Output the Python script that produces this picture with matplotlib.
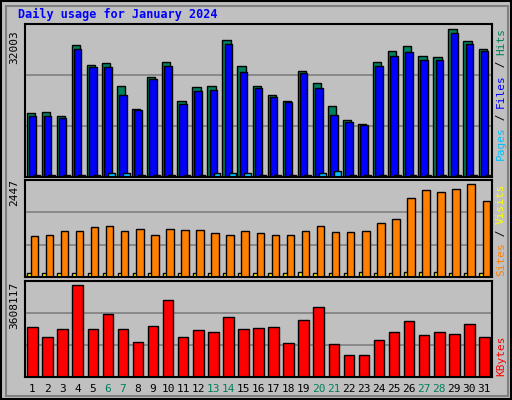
import numpy as np
import matplotlib.pyplot as plt
from matplotlib.patches import Rectangle

days = list(range(1, 32))
weekend = [6, 7, 13, 14, 20, 21, 27, 28]

hits = [13700, 13900, 13200, 28400, 24100, 24500, 19500, 14600, 21500, 24700, 16400, 19300,
        19500, 29500, 23900, 19700, 17600, 16400, 22900, 20200, 15300, 12300, 11400, 24700,
        27100, 28200, 26000, 25800, 31800, 29400, 27600]
files = [13200, 13200, 12800, 27500, 23700, 23700, 17600, 14400, 21100, 23900, 15700, 18600,
         18800, 28700, 22600, 19100, 17200, 16200, 22300, 19100, 13300, 11900, 11100, 23900,
         26000, 26900, 25200, 25200, 31100, 28600, 27200]
pages = [450, 400, 400, 400, 400, 800, 800, 400, 400, 400, 400, 400, 800, 800, 800, 400,
         400, 400, 400, 800, 1200, 400, 400, 400, 400, 400, 400, 400, 400, 400, 400]
sites = [1080, 1110, 1210, 1210, 1320, 1340, 1210, 1260, 1110, 1260, 1240, 1240, 1160, 1110,
         1210, 1160, 1110, 1110, 1210, 1340, 1180, 1180, 1210, 1420, 1530, 2080, 2290, 2240,
         2320, 2447, 2000]
visits = [100, 100, 100, 100, 100, 100, 100, 100, 100, 100, 100, 100, 100, 100, 100, 100,
          100, 100, 140, 100, 100, 100, 140, 100, 100, 140, 140, 140, 100, 100, 100]
kbytes = [1961000, 1569000, 1883000, 3608117, 1883000, 2471000, 1883000, 1373000, 1999000,
          3020000, 1569000, 1843000, 1765000, 2353000, 1883000, 1922000, 1961000, 1333000,
          2235000, 2745000, 1294000, 863000, 863000, 1451000, 1765000, 2196000, 1647000,
          1765000, 1686000, 2078000, 1569000]

BG = '#C0C0C0'
W, H = 512, 400
fig = plt.figure(figsize=(5.12, 4.0), dpi=100, facecolor=BG)
plt.rcParams['font.family'] = 'DejaVu Sans Mono'

def px_axes(x0, y0, x1, y1):
    ax = fig.add_axes([x0 / W, 1 - y1 / H, (x1 - x0) / W, (y1 - y0) / H])
    ax.set_facecolor(BG)
    ax.set_xlim(0.5, 31.5)
    ax.set_xticks([])
    ax.set_yticks([])
    for s in ax.spines.values():
        s.set_linewidth(1.5)
    return ax

x = np.array(days)
kw = dict(edgecolor='black', linewidth=1)

ax1 = px_axes(25, 24, 492, 177)
ax1.set_ylim(0, 32003 * 1.03)
for g in [32003 / 3 * 1.03, 32003 * 2 / 3 * 1.03]:
    ax1.axhline(g, color='#808080', lw=1.2, zorder=0)
ax1.bar(x - 0.12, hits, width=0.55, color='#00805C', **kw)
ax1.bar(x + 0.0, files, width=0.5, color='#0000FF', **kw)
ax1.bar(x + 0.25, pages, width=0.45, color='#00C0FF', **kw)

ax2 = px_axes(25, 180, 492, 277)
ax2.set_ylim(0, 2447 * 1.04)
for g in [2447 * 1.04 / 3, 2447 * 1.04 * 2 / 3]:
    ax2.axhline(g, color='#808080', lw=1.2, zorder=0)
ax2.bar(x - 0.2, visits, width=0.3, color='#FFFF00', **kw)
ax2.bar(x + 0.12, sites, width=0.5, color='#FF8000', **kw)

ax3 = px_axes(25, 281, 492, 377)
ax3.set_ylim(0, 3608117 * 1.04)
for g in [3608117 * 1.04 / 3, 3608117 * 1.04 * 2 / 3]:
    ax3.axhline(g, color='#808080', lw=1.2, zorder=0)
ax3.bar(x, kbytes, width=0.7, color='#FF0000', **kw)

for d in days:
    fig.text((25 + (d - 0.5) * 467 / 31) / W, 1 - 389 / H, str(d), ha='center', va='center',
             fontsize=8, color='#00805C' if d in weekend else 'black')

fig.text(18 / W, 1 - 14 / H, 'Daily usage for January 2024', color='#0000FF',
         fontsize=8.5, fontweight='bold', va='center')

for lbl, yc in [('32003', 47), ('2447', 193), ('3608117', 305)]:
    fig.text(14 / W, 1 - yc / H, lbl, rotation=90, ha='center', va='center', fontsize=8)

def right_label(parts, y_bottom):
    cw = 6.6
    y = y_bottom
    for txt, col in parts:
        n = len(txt)
        fig.text(501 / W, 1 - (y - n * cw / 2) / H, txt, rotation=90, ha='center', va='center',
                 fontsize=8, color=col)
        y -= n * cw

right_label([('Pages', '#00C0FF'), (' / ', 'black'), ('Files', '#0000FF'), (' / ', 'black'),
             ('Hits', '#00805C')], 160)
right_label([('Sites', '#FF8000'), (' / ', 'black'), ('Visits', '#FFFF00')], 276)
right_label([('KBytes', '#FF0000')], 376)

fig.patches.append(Rectangle((0.002, 0.002), 0.996, 0.996, transform=fig.transFigure,
                             fill=False, edgecolor='black', lw=1.5))
fig.patches.append(Rectangle((6 / W, 1 - 396 / H), 502 / W, 390 / H, transform=fig.transFigure,
                             fill=False, edgecolor='#808080', lw=1.5))

fig.savefig('out.png', dpi=100, facecolor=BG)
